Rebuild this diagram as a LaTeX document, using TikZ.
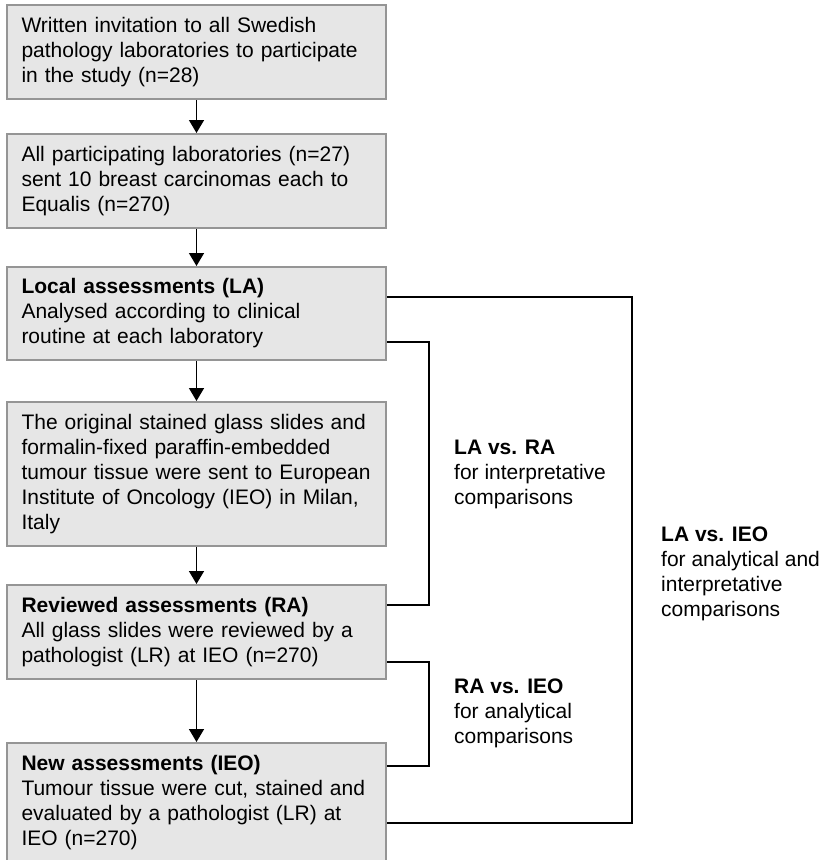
\documentclass[tikz,border=0pt]{standalone}
\usepackage{fontspec}
\setmainfont{Liberation Sans}
\usepackage{tikz}
\usetikzlibrary{arrows.meta, positioning}

\definecolor{boxfill}{HTML}{E6E6E6}
\definecolor{boxline}{HTML}{959595}

\tikzset{
  stepbox/.style = {draw=boxline, line width=2pt, fill=boxfill, text width=350pt,
    inner xsep=14.5pt, inner ysep=0pt, align=left, minimum height=#1},
  stepbox/.default = 94pt,
  note/.style = {anchor=west, inner sep=0pt, align=left},
  link/.style = {line width=2pt, line join=miter}
}

\begin{document}
\begin{tikzpicture}[x=1pt, y=-1pt, font=\fontsize{21}{25}\selectfont]
  \useasboundingbox (0,0) rectangle (824,860);

  \node (inv) [stepbox] at (196.5,52) {Written invitation to all Swedish\\
    pathology laboratories to participate\\ in the study (n=28)};
  \node (lab) [stepbox] at (196.5,181) {All participating laboratories (n=27)\\
    sent 10 breast carcinomas each to\\ Equalis (n=270)};
  \node (la) [stepbox=93pt] at (196.5,313.5) {\textbf{Local assessments (LA)}\\
    Analysed according to clinical\\ routine at each laboratory};
  \node (ship) [stepbox=144pt] at (196.5,474) {The original stained glass slides and\\
    formalin-fixed paraffin-embedded\\ tumour tissue were sent to European\\
    Institute of Oncology (IEO) in Milan,\\ Italy};
  \node (ra) [stepbox] at (196.5,632) {\textbf{Reviewed assessments (RA)}\\
    All glass slides were reviewed by a\\ pathologist (LR) at IEO (n=270)};
  \node (ieo) [stepbox=119pt] at (196.5,802.5) {\textbf{New assessments (IEO)}\\
    Tumour tissue were cut, stained and\\ evaluated by a pathologist (LR) at\\
    IEO (n=270)};

  \node (lara) [note] at (454,474) {\textbf{LA vs. RA}\\ for interpretative\\ comparisons};
  \node (raieo) [note] at (454,713) {\textbf{RA vs. IEO}\\ for analytical\\ comparisons};
  \node (laieo) [note] at (661,573.5) {\textbf{LA vs. IEO}\\ for analytical and\\
    interpretative\\ comparisons};

  \path [-{Triangle[width=15pt, length=13pt]}, line width=1.5pt]
    (inv) edge (lab)
    (lab) edge (la)
    (la) edge (ship)
    (ship) edge (ra)
    (ra) edge (ieo);

  % comparison brackets
  \draw [link] ([yshift=-28.5pt]la.east) -| (429,605) -- ([yshift=27pt]ra.east);
  \draw [link] ([yshift=-30pt]ra.east) -| (429,766) -- ([yshift=36.5pt]ieo.east);
  \draw [link] ([yshift=16.5pt]la.east) -| (632,823) -- ([yshift=-20.5pt]ieo.east);
\end{tikzpicture}
\end{document}
